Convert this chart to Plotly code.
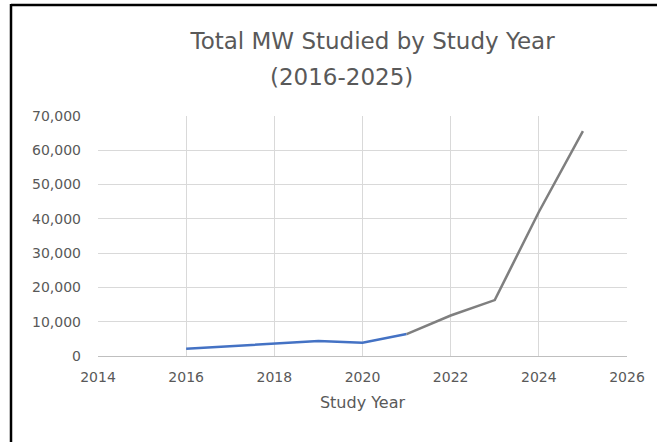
import plotly.graph_objects as go

# ---- data ----
years = [2016, 2017, 2018, 2019, 2020, 2021, 2022, 2023, 2024, 2025]
mw_studied = [2100, 2900, 3600, 4400, 3900, 6400, 11800, 16300, 42000, 65600]
split_year = 2021  # colour changes from blue to gray here

x_ticks = [2014, 2016, 2018, 2020, 2022, 2024, 2026]
y_ticks = [0, 10000, 20000, 30000, 40000, 50000, 60000, 70000]

title_line1 = "Total MW Studied by Study Year"
title_line2 = "(2016-2025)"
x_title = "Study Year"

blue_x = [y for y in years if y <= split_year]
blue_y = [v for y, v in zip(years, mw_studied) if y <= split_year]
gray_x = [y for y in years if y >= split_year]
gray_y = [v for y, v in zip(years, mw_studied) if y >= split_year]

FONT = "DejaVu Sans"
TXT = "#595959"

fig = go.Figure()
fig.add_trace(go.Scatter(x=blue_x, y=blue_y, mode="lines",
                         line=dict(color="#4472C4", width=2.5), showlegend=False))
fig.add_trace(go.Scatter(x=gray_x, y=gray_y, mode="lines",
                         line=dict(color="#7f7f7f", width=2.5), showlegend=False))

W, H = 657, 442
L, R, T, B = 98, 30, 116, 86
pw, ph = W - L - R, H - T - B

def px_x(px):
    return (px - L) / pw

def px_y(py):
    return (H - B - py) / ph

fig.update_layout(
    width=W, height=H,
    margin=dict(l=L, r=R, t=T, b=B, pad=0),
    paper_bgcolor="white", plot_bgcolor="white",
    font=dict(family=FONT, color=TXT),
    title=dict(text=title_line1, x=341 / W, xref="paper", xanchor="center",
               y=1 - 41 / H, yref="container", yanchor="middle",
               font=dict(family=FONT, size=23, color=TXT)),
    xaxis=dict(range=[2014, 2026], tickvals=x_ticks, showgrid=True,
               gridcolor="#d9d9d9", gridwidth=1, zeroline=False,
               showline=False, ticks="", ticklabelstandoff=11,
               tickfont=dict(family=FONT, size=14, color=TXT),
               title=dict(text=x_title, font=dict(family=FONT, size=16, color=TXT),
                          standoff=12)),
    yaxis=dict(range=[0, 70000], tickvals=y_ticks, tickformat=",",
               showgrid=True, gridcolor="#d9d9d9", gridwidth=1,
               zeroline=True, zerolinecolor="#bfbfbf", zerolinewidth=1,
               showline=False, ticks="", ticklabelstandoff=16,
               tickfont=dict(family=FONT, size=14, color=TXT)),
    annotations=[dict(text=title_line2, xref="paper", yref="paper",
                      x=px_x(341), y=px_y(77), xanchor="center", yanchor="middle",
                      showarrow=False, font=dict(family=FONT, size=23, color=TXT))],
    shapes=[
        dict(type="line", xref="paper", yref="paper",
             x0=px_x(11), x1=px_x(W + 5), y0=px_y(5), y1=px_y(5),
             line=dict(color="black", width=2.5)),
        dict(type="line", xref="paper", yref="paper",
             x0=px_x(11), x1=px_x(11), y0=px_y(4), y1=px_y(H + 5),
             line=dict(color="black", width=2.5)),
    ],
)

fig.write_html("out.html",
               config={"displayModeBar": False},
               post_script="document.body.style.margin='0';"
                           "document.body.style.overflow='hidden';")
